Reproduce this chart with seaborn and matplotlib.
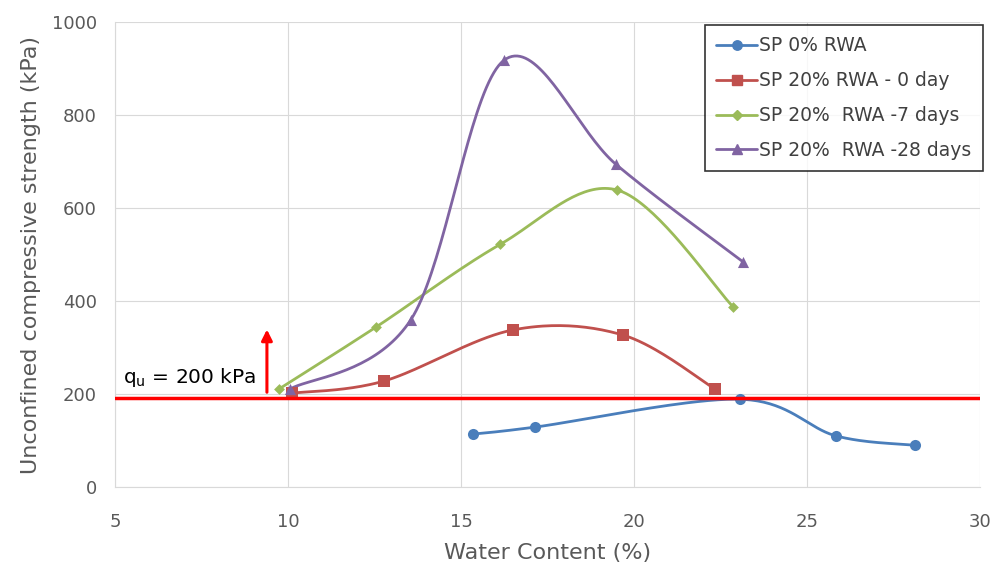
import numpy as np
import pandas as pd
import seaborn as sns
import matplotlib
matplotlib.use("Agg")
import matplotlib.pyplot as plt
from matplotlib.lines import Line2D

# ---- data ----
labels = ["SP 0% RWA", "SP 20% RWA - 0 day", "SP 20%  RWA -7 days", "SP 20%  RWA -28 days"]
x_sp0 = [15.35, 17.14, 23.06, 25.84, 28.12]
y_sp0 = [114, 129, 189, 110, 90]
x_d0 = [10.12, 12.77, 16.50, 19.68, 22.34]
y_d0 = [202, 228, 338, 327, 211]
x_d7 = [9.74, 12.54, 16.13, 19.51, 22.86]
y_d7 = [211, 344, 522, 639, 388]
x_d28 = [10.06, 13.55, 16.24, 19.48, 23.14]
y_d28 = [211, 360, 918, 694, 485]
qu_line = 192
qu_text = r"q$_\mathrm{u}$ = 200 kPa"
arrow_x = 9.39
arrow_from = 198
arrow_to = 345

colors = ["#4A7EBB", "#C0504D", "#9BBB59", "#8064A2"]
markers = ["o", "s", "D", "^"]
msizes = [8, 8, 5.5, 8]

sns.set_style("whitegrid", {"grid.color": "#d9d9d9", "axes.edgecolor": "#d9d9d9"})
plt.rcParams["font.family"] = ["DejaVu Sans"]

fig = plt.figure(figsize=(9.95, 5.69), dpi=100)
ax = fig.add_axes([0.1156, 0.144, 0.8694, 0.817])


def excel_smooth(xs, ys, sx=34.6, sy=0.465, n=40):
    # parametric Bezier smoothing like Excel's "smoothed line" (in screen-like units)
    P = np.column_stack([np.asarray(xs) * sx, np.asarray(ys) * sy])
    out = []
    m = len(P)
    for i in range(m - 1):
        p0 = P[i - 1] if i > 0 else P[i]
        p1 = P[i]
        p2 = P[i + 1]
        p3 = P[i + 2] if i + 2 < m else P[i + 1]
        c1 = p1 + (p2 - p0) / 6.0
        c2 = p2 - (p3 - p1) / 6.0
        t = np.linspace(0, 1, n)[:, None]
        seg = ((1 - t) ** 3) * p1 + 3 * ((1 - t) ** 2) * t * c1 + 3 * (1 - t) * t ** 2 * c2 + t ** 3 * p2
        out.append(seg if i == 0 else seg[1:])
    S = np.vstack(out)
    return S[:, 0] / sx, S[:, 1] / sy


series = [(x_sp0, y_sp0), (x_d0, y_d0), (x_d7, y_d7), (x_d28, y_d28)]
handles = []
for (xs, ys), lab, c, mk, ms in zip(series, labels, colors, markers, msizes):
    cx, cy = excel_smooth(xs, ys)
    df_line = pd.DataFrame({"x": cx, "y": cy})
    sns.lineplot(data=df_line, x="x", y="y", sort=False, estimator=None, ax=ax,
                 color=c, linewidth=2.0, zorder=3)
    df_pts = pd.DataFrame({"x": xs, "y": ys})
    sns.scatterplot(data=df_pts, x="x", y="y", ax=ax, color=c, marker=mk,
                    s=ms ** 2, edgecolor=c, linewidth=0, zorder=4)
    handles.append(Line2D([0], [0], color=c, lw=2.0, marker=mk, markersize=ms * 0.85, label=lab))

ax.axhline(qu_line, color="#FF0000", linewidth=2.5, zorder=5)
ax.annotate("", xy=(arrow_x, arrow_to), xytext=(arrow_x, arrow_from),
            arrowprops=dict(arrowstyle="-|>", color="#FF0000", lw=2.2, mutation_scale=16), zorder=5)
ax.text(5.22, 210, qu_text, fontsize=14.5, color="#000000", ha="left", va="bottom")

ax.set_xlim(5, 30)
ax.set_ylim(0, 1000)
ax.set_xticks([5, 10, 15, 20, 25, 30])
ax.set_yticks([0, 200, 400, 600, 800, 1000])
ax.tick_params(axis="both", labelsize=13, labelcolor="#595959", length=0)
ax.tick_params(axis="x", pad=19)
ax.tick_params(axis="y", pad=13)
ax.set_xlabel("Water Content (%)", fontsize=16, color="#595959", labelpad=8)
ax.set_ylabel("Unconfined compressive strength (kPa)", fontsize=16, color="#595959", labelpad=8)
for side in ["top", "right"]:
    ax.spines[side].set_visible(False)
for side in ["left", "bottom"]:
    ax.spines[side].set_color("#d9d9d9")

leg = ax.legend(handles=handles, loc="upper right", bbox_to_anchor=(1.003, 0.994),
                borderaxespad=0.0,
                fontsize=13.5, frameon=True, fancybox=False, edgecolor="#000000",
                handlelength=2.2, handletextpad=0.1, labelspacing=0.85, borderpad=0.6)
leg.get_frame().set_linewidth(1.2)
for t in leg.get_texts():
    t.set_color("#404040")

fig.savefig("out.png", dpi=100)
